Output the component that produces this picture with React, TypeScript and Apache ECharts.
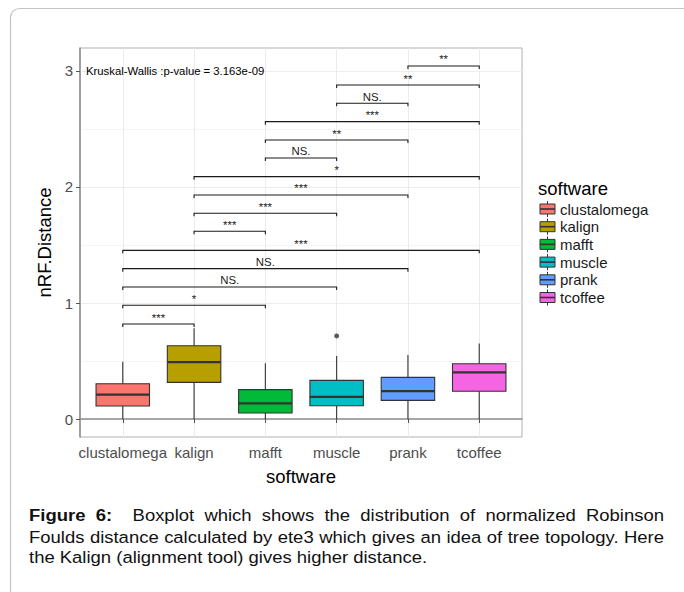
import React, { useEffect, useRef } from "react";
import * as echarts from "echarts";

const FONT = '"Liberation Sans", Arial, Helvetica, sans-serif';

const categories = ["clustalomega", "kalign", "mafft", "muscle", "prank", "tcoffee"];
const colors = ["#F8766D", "#B79F00", "#00BA38", "#00BFC4", "#619CFF", "#F564E3"];
// [lower whisker, Q1, median, Q3, upper whisker]
const boxStats = [
  [0, 0.112, 0.21, 0.304, 0.494],
  [0, 0.316, 0.491, 0.632, 0.782],
  [0, 0.052, 0.135, 0.253, 0.48],
  [0, 0.115, 0.19, 0.333, 0.543],
  [0, 0.161, 0.241, 0.359, 0.552],
  [0, 0.239, 0.402, 0.477, 0.652],
];
const outliers = [[4, 0.716]];
const comparisons = [
  [1, 2], [1, 3], [1, 4], [1, 5], [1, 6],
  [2, 3], [2, 4], [2, 5], [2, 6],
  [3, 4], [3, 5], [3, 6],
  [4, 5], [4, 6],
  [5, 6],
];
const bracketHeights = [0.819, 0.98, 1.138, 1.296, 1.454, 1.618, 1.773, 1.931, 2.089, 2.25, 2.405, 2.563, 2.722, 2.879, 3.043];
const bracketLabels = ["***", "*", "NS.", "NS.", "***", "***", "***", "***", "*", "NS.", "**", "***", "NS.", "**", "**"];
const yTicks = [0, 1, 2, 3];
const yMinorLines = [0.5, 1.5, 2.5];
const xTicks = [1, 2, 3, 4, 5, 6];
const testLabel = "Kruskal-Wallis :p-value = 3.163e-09";
const captionBold = ["Figure", "6:"];
const captionLines = [
  "Figure 6:  Boxplot which shows the distribution of normalized Robinson",
  "Foulds distance calculated by ete3 which gives an idea of tree topology. Here",
  "the Kalign (alignment tool) gives higher distance.",
];
const captionJustify = [true, true, false];

function buildCaption(): any[] {
  const fs = 16.8;
  const sx = 1.1;
  const left = 29;
  const right = 664;
  const baselines = [521, 542.7, 563.4];
  const canvas = document.createElement("canvas");
  const ctx = canvas.getContext("2d")!;
  const measure = (t: string, bold: boolean) => {
    ctx.font = `${bold ? "bold " : ""}${fs}px ${FONT}`;
    return ctx.measureText(t).width;
  };
  const spaceW = measure(" ", false);
  const avail = (right - left) / sx;
  const out: any[] = [];
  captionLines.forEach((line, li) => {
    const words = line.split(" ");
    const boldFlags = words.map((w, wi) => li === 0 && wi < captionBold.length && captionBold[wi] === w);
    const widths = words.map((w, wi) => (w ? measure(w, boldFlags[wi]) : 0));
    const total = widths.reduce((a, b) => a + b, 0);
    const gaps = words.length - 1;
    const gap = captionJustify[li] && gaps > 0 ? (avail - total) / gaps : spaceW;
    let x = 0;
    const children: any[] = [];
    words.forEach((w, wi) => {
      if (w) {
        children.push({
          type: "text",
          x,
          y: 0,
          style: {
            text: w,
            font: `${boldFlags[wi] ? "bold " : ""}${fs}px ${FONT}`,
            fill: "#111",
            align: "left",
            verticalAlign: "middle",
          },
        });
      }
      x += widths[wi] + gap;
    });
    out.push({
      type: "group",
      x: left,
      y: baselines[li] - 0.35 * fs,
      scaleX: sx,
      scaleY: 1,
      children,
    });
  });
  return out;
}

function buildLegend(): any[] {
  const els: any[] = [];
  els.push({
    type: "text",
    x: 538,
    y: 188.5,
    style: { text: "software", font: `18.5px ${FONT}`, fill: "#000", verticalAlign: "middle" },
  });
  categories.forEach((c, i) => {
    const cy = 209 + i * 17.7;
    els.push({ type: "line", shape: { x1: 547.5, y1: cy - 8, x2: 547.5, y2: cy + 8 }, style: { stroke: "#333", lineWidth: 1 } });
    els.push({ type: "rect", shape: { x: 540, y: cy - 5, width: 15, height: 10 }, style: { fill: colors[i], stroke: "#333", lineWidth: 1 } });
    els.push({ type: "line", shape: { x1: 540, y1: cy, x2: 555, y2: cy }, style: { stroke: "#333", lineWidth: 1.6 } });
    els.push({
      type: "text",
      x: 560,
      y: cy,
      style: { text: c, font: `15px ${FONT}`, fill: "#1a1a1a", verticalAlign: "middle" },
    });
  });
  return els;
}

export default function App() {
  const ref = useRef<HTMLDivElement>(null);
  useEffect(() => {
    document.body.style.margin = "0";
    const chart = echarts.init(ref.current!, undefined, { renderer: "svg" });
    const option: any = {
      animation: false,
      backgroundColor: "#fff",
      textStyle: { fontFamily: FONT },
      grid: {
        left: 80,
        top: 48,
        width: 442,
        height: 389,
        show: true,
        backgroundColor: "#fff",
        borderColor: "#b0b0b0",
        borderWidth: 1,
        containLabel: false,
        outerBoundsMode: "none",
      },
      xAxis: {
        type: "value",
        min: 0.4,
        max: 6.6,
        name: "software",
        nameLocation: "middle",
        nameGap: 30,
        nameTextStyle: { fontSize: 18.5, color: "#000", fontFamily: FONT },
        axisLine: { show: true, lineStyle: { color: "#8c8c8c", width: 1.5 } },
        axisTick: { show: true, customValues: xTicks, length: 4, lineStyle: { color: "#555" } },
        axisLabel: {
          customValues: xTicks,
          formatter: (v: number) => categories[Math.round(v) - 1] ?? "",
          color: "#4d4d4d",
          fontSize: 15,
          fontFamily: FONT,
          margin: 8,
          hideOverlap: false,
        },
        splitLine: { show: true, lineStyle: { color: "#ebebeb", width: 1 } },
      },
      yAxis: [
        {
          type: "value",
          min: -0.155,
          max: 3.198,
          name: "nRF.Distance",
          nameLocation: "middle",
          nameGap: 25,
          nameRotate: 90,
          nameTextStyle: { fontSize: 18.5, color: "#000", fontFamily: FONT },
          axisLine: { show: true, lineStyle: { color: "#8c8c8c", width: 1.5 } },
          axisTick: { show: true, customValues: yTicks, length: 4, lineStyle: { color: "#555" } },
          axisLabel: {
            customValues: yTicks,
            formatter: (v: number) => String(Math.round(v)),
            color: "#4d4d4d",
            fontSize: 15,
            fontFamily: FONT,
            margin: 7,
          },
          splitLine: { show: true, lineStyle: { color: "#ededed", width: 1 } },
        },
        {
          type: "value",
          min: -0.155,
          max: 3.198,
          position: "left",
          axisLine: { show: false },
          axisTick: { show: false, customValues: yMinorLines },
          axisLabel: { show: false, customValues: yMinorLines },
          splitLine: { show: true, lineStyle: { color: "#f3f3f3", width: 0.8 } },
        },
      ],
      series: [
        {
          type: "custom",
          name: "boxes",
          xAxisIndex: 0,
          yAxisIndex: 0,
          data: boxStats.map((s, i) => [i + 1, ...s]),
          encode: { x: 0, y: [1, 2, 3, 4, 5] },
          renderItem: (params: any, api: any) => {
            const x = api.value(0);
            const lo = api.coord([x, api.value(1)]);
            const q1 = api.coord([x, api.value(2)]);
            const med = api.coord([x, api.value(3)]);
            const q3 = api.coord([x, api.value(4)]);
            const hi = api.coord([x, api.value(5)]);
            const w = api.size([0.75, 0])[0];
            const cx = med[0];
            return {
              type: "group",
              children: [
                { type: "line", shape: { x1: cx, y1: hi[1], x2: cx, y2: q3[1] }, style: { stroke: "#333", lineWidth: 1.1 } },
                { type: "line", shape: { x1: cx, y1: q1[1], x2: cx, y2: lo[1] }, style: { stroke: "#333", lineWidth: 1.1 } },
                {
                  type: "rect",
                  shape: { x: cx - w / 2, y: q3[1], width: w, height: q1[1] - q3[1] },
                  style: { fill: colors[params.dataIndex], stroke: "#333", lineWidth: 1.1 },
                },
                { type: "line", shape: { x1: cx - w / 2, y1: med[1], x2: cx + w / 2, y2: med[1] }, style: { stroke: "#333", lineWidth: 2.3 } },
              ],
            };
          },
        },
        {
          type: "scatter",
          name: "outliers",
          data: outliers,
          symbolSize: 5,
          itemStyle: { color: "#333" },
        },
        {
          type: "custom",
          name: "signif",
          clip: false,
          data: comparisons.map((c, i) => [c[0], c[1], bracketHeights[i]]),
          encode: { x: [0, 1], y: 2 },
          renderItem: (params: any, api: any) => {
            const y = api.value(2);
            const p1 = api.coord([api.value(0), y]);
            const p2 = api.coord([api.value(1), y]);
            const t = 3;
            return {
              type: "group",
              children: [
                {
                  type: "polyline",
                  shape: { points: [[p1[0], p1[1] + t], [p1[0], p1[1]], [p2[0], p2[1]], [p2[0], p2[1] + t]] },
                  style: { stroke: "#1a1a1a", lineWidth: 1.1, fill: "none" },
                },
                {
                  type: "text",
                  x: (p1[0] + p2[0]) / 2,
                  y: p1[1] - 1,
                  style: {
                    text: bracketLabels[params.dataIndex],
                    font: `11.4px ${FONT}`,
                    fill: "#1a1a1a",
                    align: "center",
                    verticalAlign: "bottom",
                  },
                },
              ],
            };
          },
        },
      ],
      graphic: [
        {
          type: "rect",
          shape: { x: 10.5, y: 8.5, width: 760, height: 700, r: [9, 0, 0, 0] },
          style: { fill: "none", stroke: "#c4c4c4", lineWidth: 1.2 },
          silent: true,
        },
        {
          type: "text",
          x: 86,
          y: 71,
          z: 100,
          style: { text: testLabel, font: `11.3px ${FONT}`, fill: "#000", verticalAlign: "middle" },
        },
        ...buildLegend(),
        ...buildCaption(),
      ],
    };
    chart.setOption(option);
    return () => chart.dispose();
  }, []);
  return <div ref={ref} style={{ width: 684, height: 592 }} />;
}
